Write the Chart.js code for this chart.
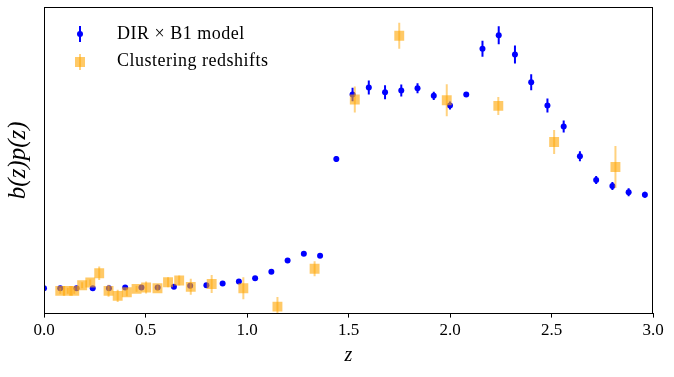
<!DOCTYPE html>
<html><head><meta charset="utf-8">
<script src="https://cdn.jsdelivr.net/npm/chart.js@4"></script>
<style>html,body{margin:0;padding:0;background:#fff}canvas{display:block}</style>
</head><body>
<canvas id="c" width="674" height="377"></canvas>
<script>
// DIR x B1 model
const modelZ = [0.00,0.08,0.16,0.24,0.32,0.40,0.48,0.56,0.64,0.72,0.80,0.88,0.96,1.04,1.12,1.20,1.28,1.36,
  1.44,1.52,1.60,1.68,1.76,1.84,1.92,2.00,2.08,2.16,2.24,2.32,2.40,2.48,2.56,2.64,2.72,2.80,2.88,2.96];
const modelY = [0.253,0.253,0.253,0.253,0.253,0.260,0.260,0.260,0.267,0.277,0.283,0.300,0.320,0.353,0.417,0.530,0.597,0.577,
  1.543,2.187,2.257,2.210,2.227,2.250,2.173,2.077,2.187,2.643,2.777,2.587,2.310,2.077,1.867,1.570,1.333,1.273,1.210,1.187];
const modelErr = [0.01,0.01,0.01,0.01,0.01,0.01,0.01,0.01,0.01,0.01,0.01,0.01,0.01,0.01,0.01,0.01,0.01,0.01,
  0.03,0.067,0.07,0.07,0.06,0.05,0.04,0.04,0.02,0.08,0.09,0.09,0.08,0.07,0.06,0.05,0.04,0.04,0.04,0.03];
// Clustering redshifts
const clusZ = [0.080,0.117,0.149,0.188,0.228,0.272,0.318,0.363,0.408,0.456,0.503,0.559,0.611,0.666,0.723,0.826,0.982,1.150,1.333,
  1.531,1.750,1.984,2.238,2.513,2.815];
const clusY = [0.227,0.227,0.227,0.283,0.310,0.403,0.227,0.177,0.213,0.247,0.260,0.253,0.313,0.330,0.267,0.295,0.253,0.070,0.447,
  2.137,2.773,2.130,2.073,1.713,1.463];
const clusErr = [0.03,0.03,0.03,0.03,0.03,0.067,0.06,0.06,0.04,0.03,0.06,0.03,0.05,0.05,0.08,0.09,0.11,0.095,0.075,
  0.13,0.13,0.16,0.09,0.12,0.21];
const xTicks = [0.0,0.5,1.0,1.5,2.0,2.5,3.0];
const seriesLabels = ['DIR \u00d7 B1 model','Clustering redshifts'];

const SERIF = '"Liberation Serif", "DejaVu Serif", serif';
const BLUE = '#0000ff';
const ORANGE = 'rgba(255,165,0,0.6)';
const ORANGE_ERR = 'rgba(255,165,0,0.5)';

const toPts = (zs, ys, es) => zs.map((z,i)=>({x:z, y:ys[i], e:es[i]}));

const errorBars = {
  id:'errorBars',
  beforeDatasetDraw(chart, args){
    const ds = chart.data.datasets[args.index];
    const xs = chart.scales.x, ys = chart.scales.y, a = chart.chartArea, ctx = chart.ctx;
    ctx.save();
    ctx.beginPath(); ctx.rect(a.left, a.top, a.right-a.left, a.bottom-a.top); ctx.clip();
    ctx.strokeStyle = ds.errColor; ctx.lineWidth = ds.errWidth;
    ds.data.forEach(p=>{
      const x = xs.getPixelForValue(p.x);
      ctx.beginPath();
      ctx.moveTo(x, ys.getPixelForValue(p.y - p.e));
      ctx.lineTo(x, ys.getPixelForValue(p.y + p.e));
      ctx.stroke();
    });
    ctx.restore();
  }
};

const frameAndLegend = {
  id:'frameAndLegend',
  afterDraw(chart){
    const a = chart.chartArea, ctx = chart.ctx;
    ctx.save();
    ctx.strokeStyle = '#000'; ctx.lineWidth = 1;
    ctx.strokeRect(Math.round(a.left)+0.5, Math.round(a.top)+0.5, Math.round(a.right-a.left)-1, Math.round(a.bottom-a.top)-1);
    // legend
    const lx = a.left + 36, tx = a.left + 73;
    const rows = [a.top + 27, a.top + 55];
    ctx.strokeStyle = BLUE; ctx.lineWidth = 2;
    ctx.beginPath(); ctx.moveTo(lx, rows[0]-8); ctx.lineTo(lx, rows[0]+8); ctx.stroke();
    ctx.fillStyle = BLUE; ctx.beginPath(); ctx.arc(lx, rows[0], 3, 0, Math.PI*2); ctx.fill();
    ctx.strokeStyle = ORANGE_ERR; ctx.lineWidth = 2;
    ctx.beginPath(); ctx.moveTo(lx, rows[1]-8); ctx.lineTo(lx, rows[1]+8); ctx.stroke();
    ctx.fillStyle = ORANGE; ctx.fillRect(lx-5, rows[1]-5, 10, 10);
    ctx.fillStyle = '#000'; ctx.font = '18px ' + SERIF; ctx.textBaseline = 'middle'; ctx.textAlign = 'left';
    try { ctx.letterSpacing = '0.5px'; } catch(e) {}
    ctx.fillText(seriesLabels[0], tx, rows[0]);
    ctx.fillText(seriesLabels[1], tx, rows[1] - 1);
    ctx.restore();
  }
};

new Chart(document.getElementById('c'), {
  type:'scatter',
  data:{datasets:[
    {label:seriesLabels[0], data:toPts(modelZ, modelY, modelErr), order:1, clip:0,
     pointStyle:'circle', pointRadius:3, pointBackgroundColor:BLUE, pointBorderWidth:0,
     errColor:BLUE, errWidth:2},
    {label:seriesLabels[1], data:toPts(clusZ, clusY, clusErr), order:0, clip:0,
     pointStyle:'rect', pointRadius:7, pointBackgroundColor:ORANGE, pointBorderWidth:0,
     errColor:ORANGE_ERR, errWidth:2}
  ]},
  options:{
    responsive:false, animation:false, devicePixelRatio:1, events:[],
    layout:{padding:{left:3, right:21, top:6, bottom:4}},
    plugins:{legend:{display:false}, tooltip:{enabled:false}},
    scales:{
      x:{type:'linear', min:0, max:3,
        afterBuildTicks:s=>{ s.ticks = xTicks.map(v=>({value:v})); },
        ticks:{callback:v=>Number(v).toFixed(1), color:'#000', font:{family:SERIF, size:17}, padding:3, maxRotation:0},
        grid:{display:true, drawOnChartArea:false, drawTicks:true, tickLength:4, color:'#000', lineWidth:1},
        border:{display:true, color:'#000', width:1},
        title:{display:true, text:'z', color:'#000', font:{family:SERIF, size:20, style:'italic'}, padding:{top:0, bottom:5}}
      },
      y:{min:0, max:3.06,
        ticks:{display:false},
        grid:{display:false, drawTicks:false},
        border:{display:false},
        title:{display:true, text:'b(z)p(z)', color:'#000', font:{family:SERIF, size:25, style:'italic'}, padding:{top:0, bottom:11}}
      }
    }
  },
  plugins:[errorBars, frameAndLegend]
});
</script>
</body></html>
